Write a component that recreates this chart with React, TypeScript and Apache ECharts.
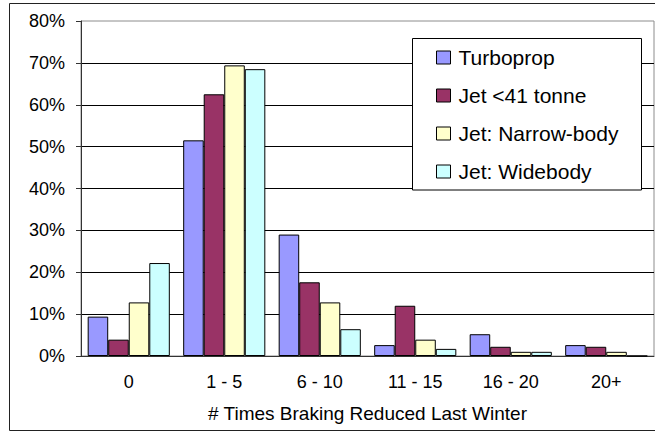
import React, { useEffect, useRef } from "react";
import * as echarts from "echarts";

// Share of operators (%) by number of times braking was reduced last winter
const categories = ["0", "1 - 5", "6 - 10", "11 - 15", "16 - 20", "20+"];
const seriesNames = ["Turboprop", "Jet <41 tonne", "Jet: Narrow-body", "Jet: Widebody"];
const turboprop = [9.4, 51.5, 29.0, 2.6, 5.2, 2.6];
const jetUnder41 = [3.9, 62.5, 17.6, 12.0, 2.2, 2.2];
const jetNarrow = [12.8, 69.4, 12.8, 3.9, 1.0, 1.0];
const jetWide = [22.2, 68.5, 6.4, 1.7, 1.0, 0];
const yTicks = { min: 0, max: 80, interval: 10 };
const xTitle = "# Times Braking Reduced Last Winter";

const colors = ["#9999FF", "#993366", "#FFFFCC", "#CCFFFF"];
const FONT = "'Liberation Sans', Arial, sans-serif";

export default function App() {
  const ref = useRef<HTMLDivElement>(null);

  useEffect(() => {
    if (!ref.current) return;
    const chart = echarts.init(ref.current, undefined, { renderer: "svg" });
    const values = [turboprop, jetUnder41, jetNarrow, jetWide];

    chart.setOption({
      animation: false,
      backgroundColor: "#ffffff",
      textStyle: { fontFamily: FONT, color: "#000" },
      grid: {
        left: 81,
        right: 1,
        top: 21,
        bottom: 77,
        show: true,
        borderColor: "#8c8c8c",
        borderWidth: 1,
        outerBoundsMode: "none",
      },
      legend: {
        orient: "vertical",
        left: 436,
        top: 47,
        padding: 0,
        itemWidth: 14,
        itemHeight: 13,
        itemGap: 17,
        icon: "rect",
        itemStyle: { borderColor: "#000", borderWidth: 1 },
        textStyle: {
          fontFamily: FONT,
          fontSize: 21,
          lineHeight: 20,
          color: "#000",
          padding: [0, 0, 0, 3],
        },
        data: seriesNames,
        z: 5,
      },
      xAxis: {
        type: "category",
        data: categories,
        axisLine: { lineStyle: { color: "#333", width: 1 } },
        axisTick: { length: 5, lineStyle: { color: "#333" } },
        axisLabel: { fontFamily: FONT, fontSize: 18, color: "#000", margin: 17 },
        name: xTitle,
        nameLocation: "middle",
        nameGap: 48,
        nameTextStyle: { fontFamily: FONT, fontSize: 19, color: "#000" },
      },
      yAxis: {
        type: "value",
        min: yTicks.min,
        max: yTicks.max,
        interval: yTicks.interval,
        axisLine: { show: true, lineStyle: { color: "#333", width: 1 } },
        axisTick: { show: true, length: 5, lineStyle: { color: "#333" } },
        axisLabel: {
          fontFamily: FONT,
          fontSize: 18,
          color: "#000",
          margin: 16,
          formatter: "{value}%",
        },
        splitLine: {
          show: true,
          showMaxLine: false,
          lineStyle: { color: "#000", width: 1 },
        },
      },
      series: seriesNames.map((name, i) => ({
        name,
        type: "bar",
        data: values[i],
        barGap: "0%",
        barCategoryGap: "14%",
        itemStyle: { color: colors[i], borderColor: "#000", borderWidth: 1 },
      })),
      graphic: [
        {
          type: "rect",
          z: 0,
          silent: true,
          shape: { x: 9.5, y: 3.5, width: 660, height: 427 },
          style: { fill: "none", stroke: "#222", lineWidth: 1 },
        },
        {
          type: "rect",
          z: 3,
          silent: true,
          shape: { x: 412.5, y: 38.5, width: 229, height: 151.5 },
          style: { fill: "#fff", stroke: "#000", lineWidth: 1 },
        },
      ],
    });

    return () => chart.dispose();
  }, []);

  return (
    <div
      ref={ref}
      style={{ position: "fixed", left: 0, top: 0, width: 655, height: 433 }}
    />
  );
}
